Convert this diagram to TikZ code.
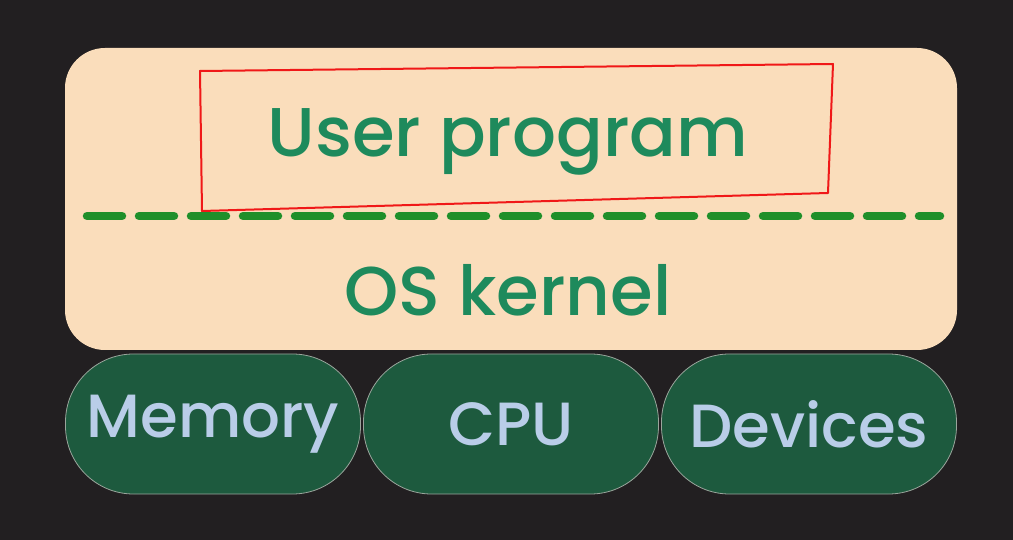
\documentclass[tikz,border=0pt]{standalone}
\usepackage{fontspec}
\setmainfont{Poppins}[BoldFont={* Medium}]
\definecolor{bgdark}{HTML}{221F21}
\definecolor{peach}{HTML}{FADDBB}
\definecolor{dashgreen}{HTML}{1F8F2A}
\definecolor{tealtext}{HTML}{1E8A5C}
\definecolor{pillgreen}{HTML}{1D5A3E}
\definecolor{pilltext}{HTML}{B9CDE8}
\definecolor{pilledge}{HTML}{9AA59C}
\definecolor{penred}{HTML}{F01818}

\begin{document}
\begin{tikzpicture}[x=1pt,y=-1pt,
    layerbox/.style={draw=none,fill=peach,rounded corners=40pt,inner sep=0pt},
    pill/.style={draw=pilledge,line width=0.8pt,fill=pillgreen,rounded corners=68pt,
      minimum width=295pt,minimum height=140pt,inner sep=0pt,
      text=pilltext,font=\fontsize{61}{70}\selectfont\bfseries},
    layertext/.style={text=tealtext,font=\fontsize{69}{80}\selectfont\bfseries}]
        % Background
        \fill[bgdark] (0,0) rectangle (1013,540);
        \useasboundingbox (0,0) rectangle (1013,540);

        % Upper layer box
        \node[layerbox,minimum width=892pt,minimum height=302pt] (upper) at (511,199) {};

        % Texts of the layer
        \node[layertext] (user) at (508,142) {User program};
        \node[layertext] (kernel) at (508,290) {OS kernel};

        % Dashed separating line
        \coordinate (dashL) at (87,216);
        \coordinate (dashR) at (940,216);
        \draw[dashgreen,line width=8.5pt,line cap=round,dash pattern=on 35pt off 17pt] (dashL) -- (dashR);

        % Hand drawn red frame
        \coordinate (r1) at (200,71);
        \coordinate (r2) at (833,64);
        \coordinate (r3) at (828,193);
        \coordinate (r4) at (202,211);
        \draw[penred,line width=2pt,line join=round] (r1) -- (r2) -- (r3) -- (r4) -- cycle;

        % Hardware pills
        \node[pill] (memory) at (213,424) {Memory};
        \node[pill] (cpu) at (511,424) {CPU};
        \node[pill] (devices) at (809,424) {Devices};
    \end{tikzpicture}
\end{document}
